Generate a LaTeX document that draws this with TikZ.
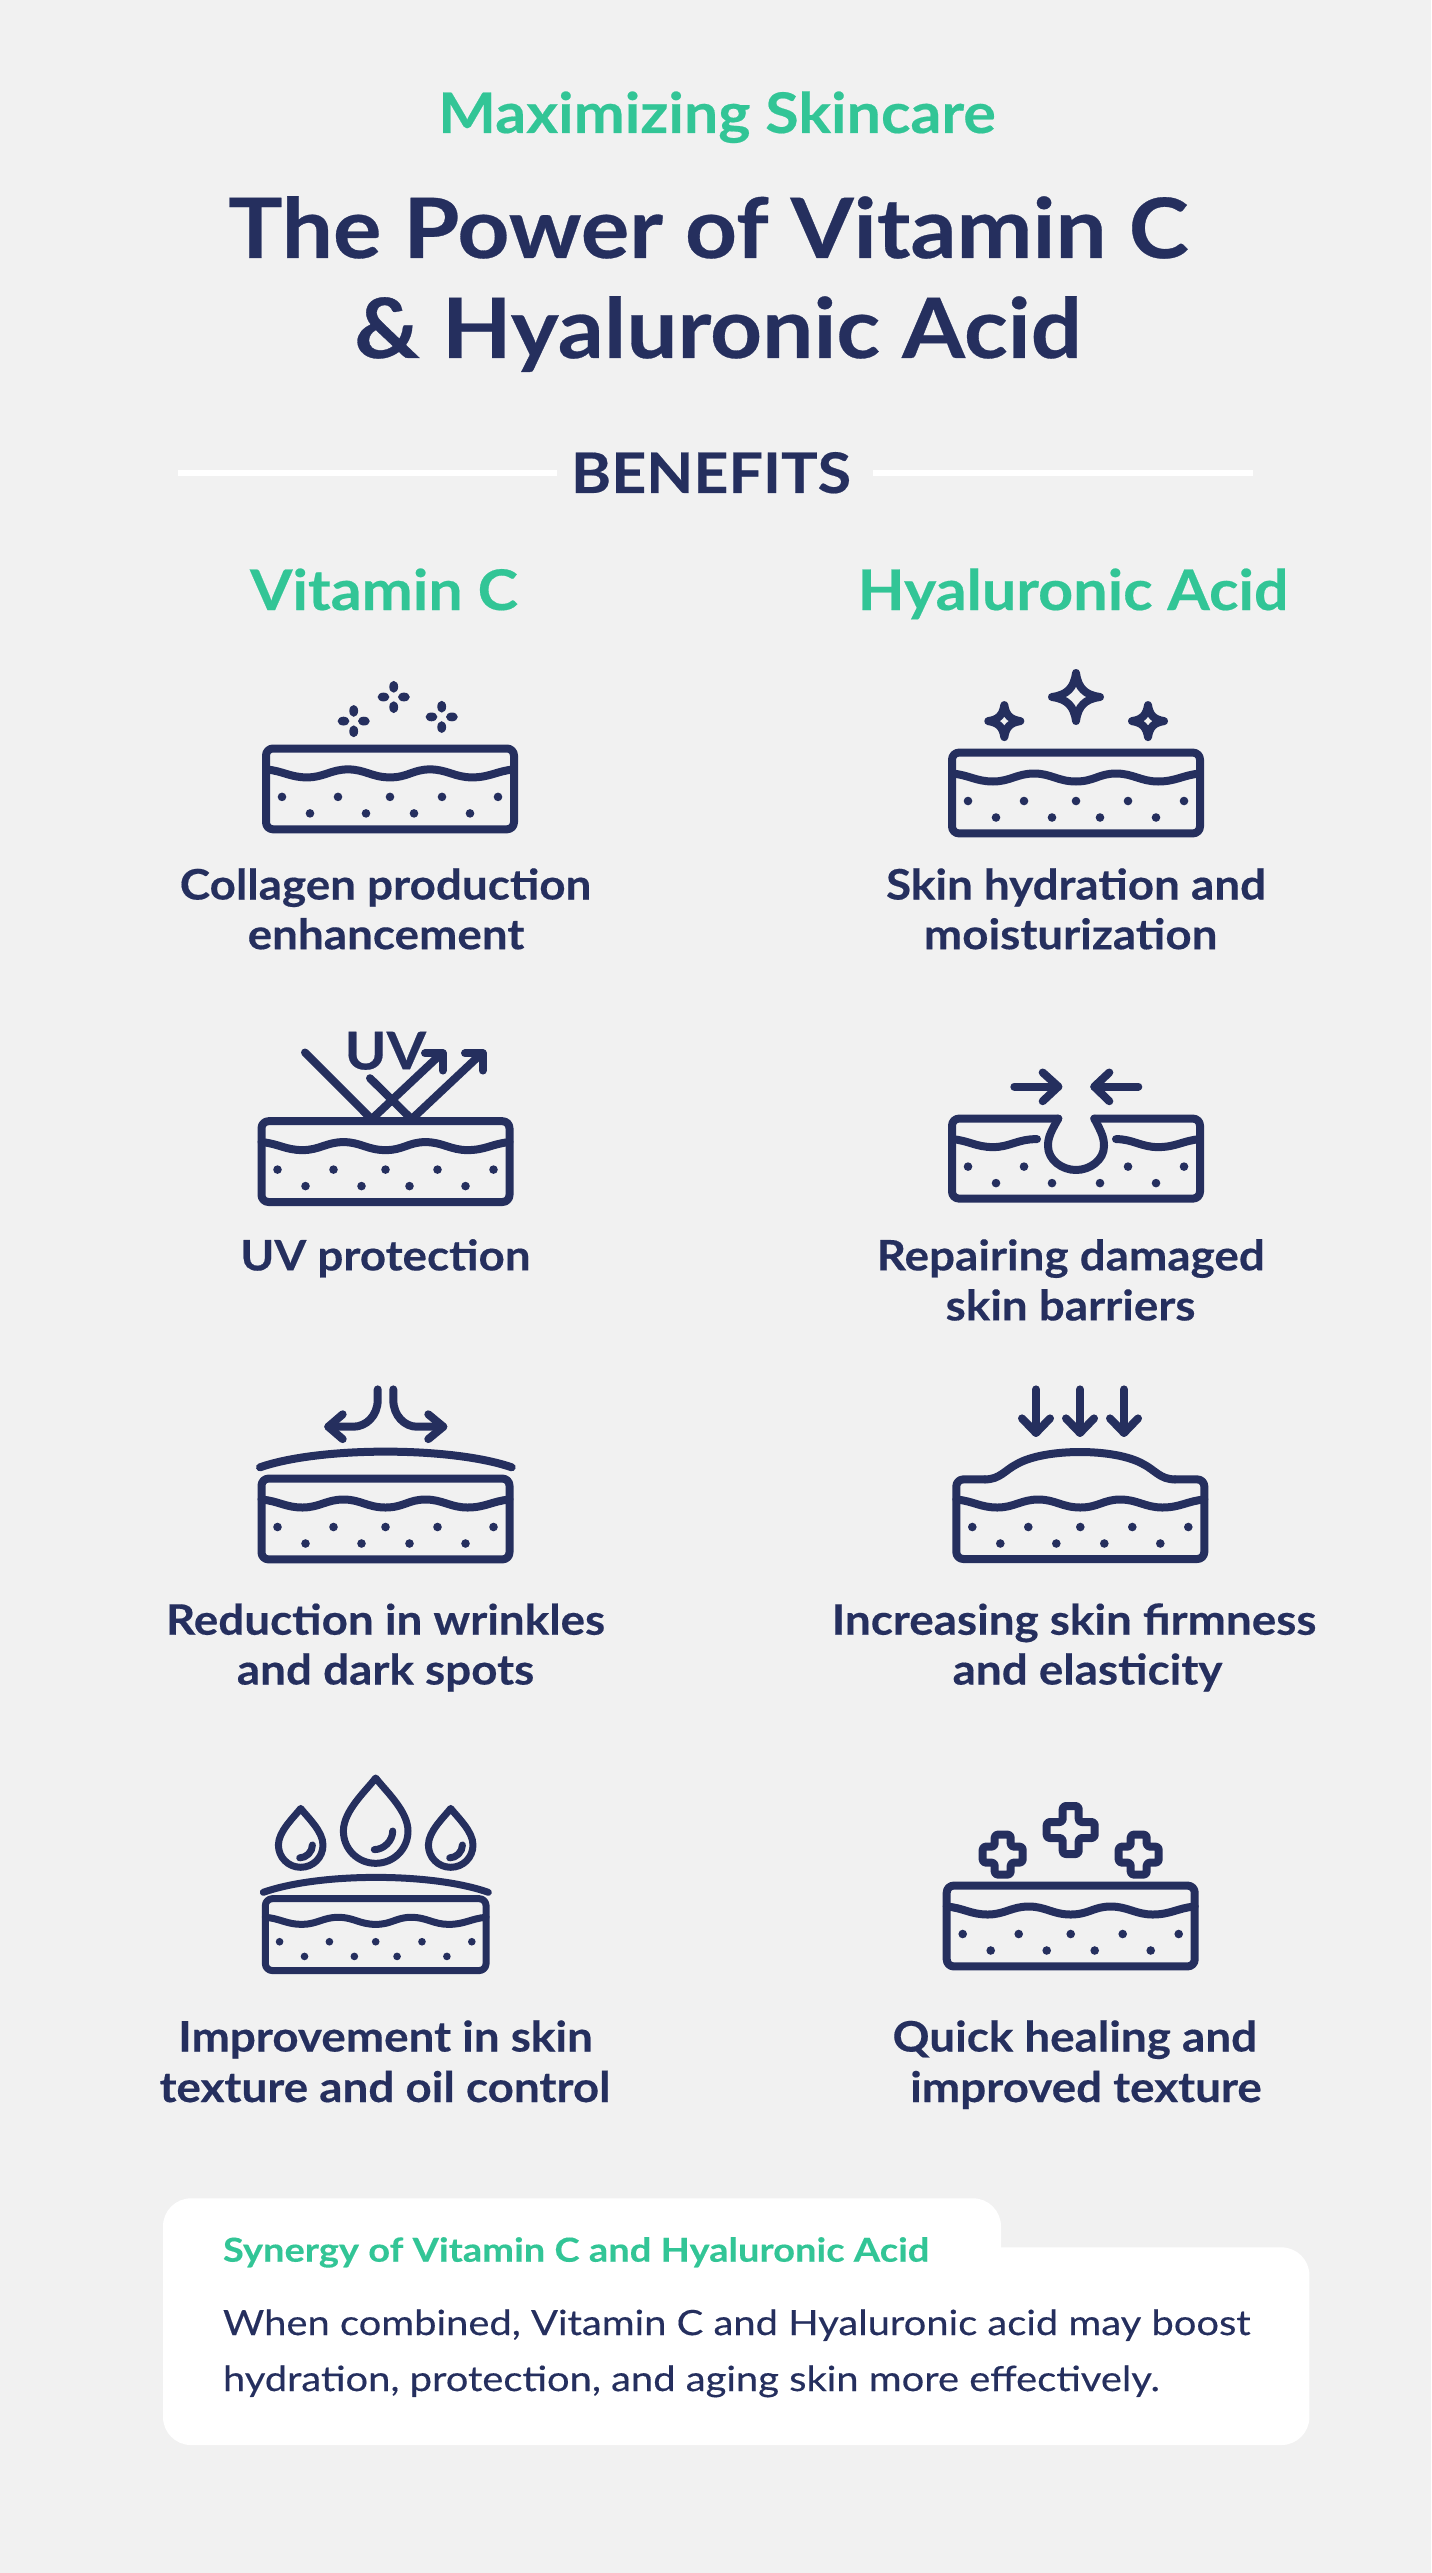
\documentclass[tikz,border=0pt]{standalone}
\usepackage{fontspec}
\setmainfont[FakeStretch=1.09,BoldFeatures={FakeBold=0.35}]{Lato}
\newfontfamily\bodyfont[FakeStretch=1.15,FakeBold=0.35]{Lato}
\newfontfamily\cardfont[FakeStretch=1.15,BoldFeatures={FakeBold=0.25}]{Lato}
\definecolor{navy}{HTML}{252F5E}
\definecolor{mint}{HTML}{32C596}
\definecolor{paper}{HTML}{F1F1F1}
\tikzset{
  icon/.style={draw=navy,line width=4pt,line cap=round,line join=round},
  thinicon/.style={icon,line width=3.5pt},
  boxcorner/.style={rounded corners=3.5pt},
  lab/.style={anchor=base,inner sep=0pt,text=navy,font=\fontsize{21}{21}\bfseries\selectfont},
  title/.style={anchor=base,inner sep=0pt,text=navy,font=\fontsize{41.6}{41.6}\bfseries\selectfont},
  subhead/.style={anchor=base,inner sep=0pt,text=mint,font=\fontsize{28}{28}\bfseries\selectfont},
  body/.style={anchor=base west,inner sep=0pt,text=navy,font=\fontsize{17.35}{17.35}\bodyfont},
  skinframe/.pic={\draw[icon,boxcorner] (-124,-40.4) rectangle (124,40.4);},
  waveleft/.pic={\draw[icon] (-124,-19.5) .. controls (-107,-18) and (-100,-11.5) .. (-83,-11.5)
    .. controls (-66,-11.5) and (-59,-19.5) .. (-39,-19.5);},
  waveright/.pic={\draw[icon] (40,-19.5) .. controls (57,-19.5) and (65,-11.5) .. (82,-11.5)
    .. controls (100,-11.5) and (107,-18) .. (124,-19.5);},
  skinwave/.pic={\draw[icon] (-124,-19.5) .. controls (-107,-18) and (-100,-11.5) .. (-83,-11.5)
    .. controls (-66,-11.5) and (-59,-19.5) .. (-42,-19.5)
    .. controls (-25,-19.5) and (-18,-11.5) .. (0,-11.5)
    .. controls (18,-11.5) and (23,-19.5) .. (40,-19.5)
    .. controls (57,-19.5) and (65,-11.5) .. (82,-11.5)
    .. controls (100,-11.5) and (107,-18) .. (124,-19.5);},
  skindots/.pic={
    \foreach \dx in {-108,-52,52,108} {\fill[navy] (\dx,8) circle (4.3);}
    \foreach \dx in {-80,-24,24,80} {\fill[navy] (\dx,24.5) circle (4.3);}
  },
  middot/.pic={\fill[navy] (0,8) circle (4.3);},
  skinbox/.pic={\pic[transform shape]{skinframe};\pic[transform shape]{skinwave};\pic[transform shape]{skindots};\pic[transform shape]{middot};},
  skinopen/.pic={\pic{skinwave};\pic{skindots};\pic{middot};},
  glint/.pic={
    \foreach \ang in {0,90,180,270} {\fill[navy,rotate=\ang] (0,-10.2) ellipse (4.4 and 5.9);}
  },
  sparkle/.pic={\draw[icon] (0,-24) .. controls (2,-9) and (9,-2) .. (24,0)
    .. controls (9,2) and (2,9) .. (0,24) .. controls (-2,9) and (-9,2) .. (-24,0)
    .. controls (-9,-2) and (-2,-9) .. (0,-24) -- cycle;},
  sparklesmall/.pic={\draw[icon] (0,-16) .. controls (1.5,-6) and (6,-1.5) .. (16,0)
    .. controls (6,1.5) and (1.5,6) .. (0,16) .. controls (-1.5,6) and (-6,1.5) .. (-16,0)
    .. controls (-6,-1.5) and (-1.5,-6) .. (0,-16) -- cycle;},
  downarrow/.pic={\draw[icon] (0,0) -- (0,43.5);\draw[icon] (-14,29) -- (0,43.5) -- (14,29);},
  dropshape/.pic={\draw[thinicon] (0,-53) .. controls (-10,-40) and (-32.3,-20) .. (-32.3,0)
    .. controls (-32.3,18) and (-18,32.3) .. (0,32.3) .. controls (18,32.3) and (32.3,18) .. (32.3,0)
    .. controls (32.3,-20) and (10,-40) .. (0,-53) -- cycle;
    \draw[thinicon] (17,0) .. controls (17,10) and (8,18.6) .. (-1.4,18.6);},
  bigcross/.pic={\draw[icon,rounded corners=1.5pt] (-8,-24) -- (8,-24) -- (8,-8) -- (24,-8) -- (24,8) -- (8,8)
    -- (8,24) -- (-8,24) -- (-8,8) -- (-24,8) -- (-24,-8) -- (-8,-8) -- cycle;},
  smallcross/.pic={\draw[icon,rounded corners=1.5pt] (-8,-20) -- (8,-20) -- (8,-8) -- (20,-8) -- (20,8) -- (8,8)
    -- (8,20) -- (-8,20) -- (-8,8) -- (-20,8) -- (-20,-8) -- (-8,-8) -- cycle;},
}
\begin{document}
\begin{tikzpicture}[x=0.5pt,y=-0.5pt]
\useasboundingbox (0,0) rectangle (1431,2573);
\fill[paper] (0,0) rectangle (1431,2573);
% heading
\node[subhead] (kicker) at (717,133) {Maximizing Skincare};
\node[title] (titleA) at (708.3,258) {The Power of Vitamin C};
\node[title] (titleB) at (718,358) {\& Hyaluronic Acid};
\node[subhead,text=navy] (benefits) at (711,493) {BENEFITS};
\fill[white] (178,470.2) rectangle (557,475.8);
\fill[white] (873,470.2) rectangle (1253,475.8);
\node[subhead] (colvitc) at (384,610) {Vitamin C};
\node[subhead] (colha) at (1073,610) {Hyaluronic Acid};
% collagen
\pic at (390,788.9) {skinbox};
\pic at (353.7,721.1) {glint};
\pic at (393.7,697) {glint};
\pic at (441.7,716.9) {glint};
\node[lab] (collagenA) at (385.5,899.5) {Collagen production};
\node[lab] (collagenB) at (386,949.2) {enhancement};
% hydration
\pic at (1076,793) {skinbox};
\pic at (1076,697) {sparkle};
\pic at (1004.3,721.1) {sparklesmall};
\pic at (1148,721.1) {sparklesmall};
\node[lab] (hydrateA) at (1076,899.5) {Skin hydration and};
\node[lab] (hydrateB) at (1070.6,949.2) {moisturization};
% uv
\pic at (385.5,1161.6) {skinbox};
\node[anchor=base,inner sep=0pt,text=navy,font=\fontsize{26}{26}\bfseries\selectfont] (uvmark) at (385.3,1069.4) {UV};
\draw[icon] (305,1052.5) -- (370,1117.6);
\draw[icon] (370,1078.2) -- (410,1117.6);
\draw[icon] (373.3,1117.6) -- (441.7,1053.3);
\draw[icon] (425,1053.3) -- (442.7,1053.3) -- (442.7,1070.5);
\draw[icon] (413.3,1117.6) -- (481.7,1053.3);
\draw[icon] (465,1053.3) -- (482.7,1053.3) -- (482.7,1070.5);
\node[lab] (uvlab) at (385.5,1270.4) {UV protection};
% barrier
\draw[icon,boxcorner] (1058.3,1118.6) -- (952,1118.6) -- (952,1198.6) -- (1200,1198.6) -- (1200,1118.6) -- (1094.3,1118.6);
\draw[icon] (1058.3,1118.6) .. controls (1050,1133) and (1048,1138) .. (1048,1146)
  .. controls (1048,1160) and (1062,1170) .. (1076,1170) .. controls (1090,1170) and (1104,1160) .. (1104,1146)
  .. controls (1104,1138) and (1102,1133) .. (1094.3,1118.6);
\pic at (1076,1158.6) {waveleft};
\pic at (1076,1158.6) {waveright};
\pic at (1076,1158.6) {skindots};
\draw[icon] (1014.3,1086.6) -- (1058.3,1086.6);
\draw[icon] (1042.7,1072.5) -- (1058.3,1086.6) -- (1042.7,1101.2);
\draw[icon] (1138.3,1086.6) -- (1094.3,1086.6);
\draw[icon] (1109.3,1072.5) -- (1094.3,1086.6) -- (1109.3,1101.2);
\node[lab] (repairA) at (1070.7,1270.4) {Repairing damaged};
\node[lab] (repairB) at (1070.5,1320.4) {skin barriers};
% wrinkles
\pic at (385.5,1519) {skinbox};
\draw[icon] (260,1467.3) .. controls (320,1446.4) and (451,1446.4) .. (511.7,1467.3);
\draw[icon] (377.7,1389.4) -- (377.7,1399.8) .. controls (377.7,1416) and (366,1426.7) .. (353.3,1426.7) -- (328.3,1426.7);
\draw[icon] (342.7,1414.3) -- (328.3,1426.7) -- (342.7,1439.1);
\draw[icon] (393.3,1389.4) -- (393.3,1399.8) .. controls (393.3,1416) and (405,1426.7) .. (416.7,1426.7) -- (443.3,1426.7);
\draw[icon] (428.3,1414.3) -- (443.3,1426.7) -- (428.3,1439.1);
\node[lab] (wrinkleA) at (385.5,1634.7) {Reduction in wrinkles};
\node[lab] (wrinkleB) at (385.5,1684.5) {and dark spots};
% firmness
\pic at (1080.3,1519) {skinopen};
\draw[icon,boxcorner] (985,1479.4) -- (956.3,1479.4) -- (956.3,1559) -- (1204.3,1559) -- (1204.3,1479.4) -- (1175,1479.4);
\draw[icon] (985,1479.4) .. controls (1000,1479.4) and (1005,1470) .. (1017,1464)
  .. controls (1045,1448) and (1115,1448) .. (1143,1464) .. controls (1155,1470) and (1160,1479.4) .. (1175,1479.4);
\pic at (1036,1389.4) {downarrow};
\pic at (1080,1389.4) {downarrow};
\pic at (1124,1389.4) {downarrow};
\node[lab] (firmA) at (1074,1634.7) {Increasing skin firmness};
\node[lab] (firmB) at (1087.5,1684.5) {and elasticity};
% texture
\pic[scale=.89,icon/.append style={line width=3.5pt}] at (375.7,1934.6) {skinbox};
\draw[thinicon] (263.3,1892.3) .. controls (320,1872.4) and (432,1872.4) .. (488.3,1892.3);
\pic at (375.7,1831) {dropshape};
\pic[scale=.69] at (300.7,1845) {dropshape};
\pic[scale=.69] at (450.7,1845) {dropshape};
\node[lab] (textureA) at (385.5,2051.5) {Improvement in skin};
\node[lab] (textureB) at (385,2102) {texture and oil control};
% healing
\pic at (1070.7,1926) {skinbox};
\pic at (1070.7,1830) {bigcross};
\pic at (1002.7,1854.6) {smallcross};
\pic at (1138.7,1854.6) {smallcross};
\node[lab] (healA) at (1074.8,2051.5) {Quick healing and};
\node[lab] (healB) at (1086,2102) {improved texture};
% synergy card
\fill[white,rounded corners=14pt] (163,2198.3) rectangle (1001,2300);
\fill[white,rounded corners=14pt] (163,2247.3) rectangle (1309.4,2445);
\node[anchor=base west,inner sep=0pt,text=mint,font=\fontsize{16.55}{16.55}\cardfont\bfseries] (syntitle) at (222.6,2261.7) {Synergy of Vitamin C and Hyaluronic Acid};
\node[body] (synA) at (222.6,2335) {When combined, Vitamin C and Hyaluronic acid may boost};
\node[body] (synB) at (222.6,2391) {hydration, protection, and aging skin more effectively.};
\end{tikzpicture}
\end{document}
